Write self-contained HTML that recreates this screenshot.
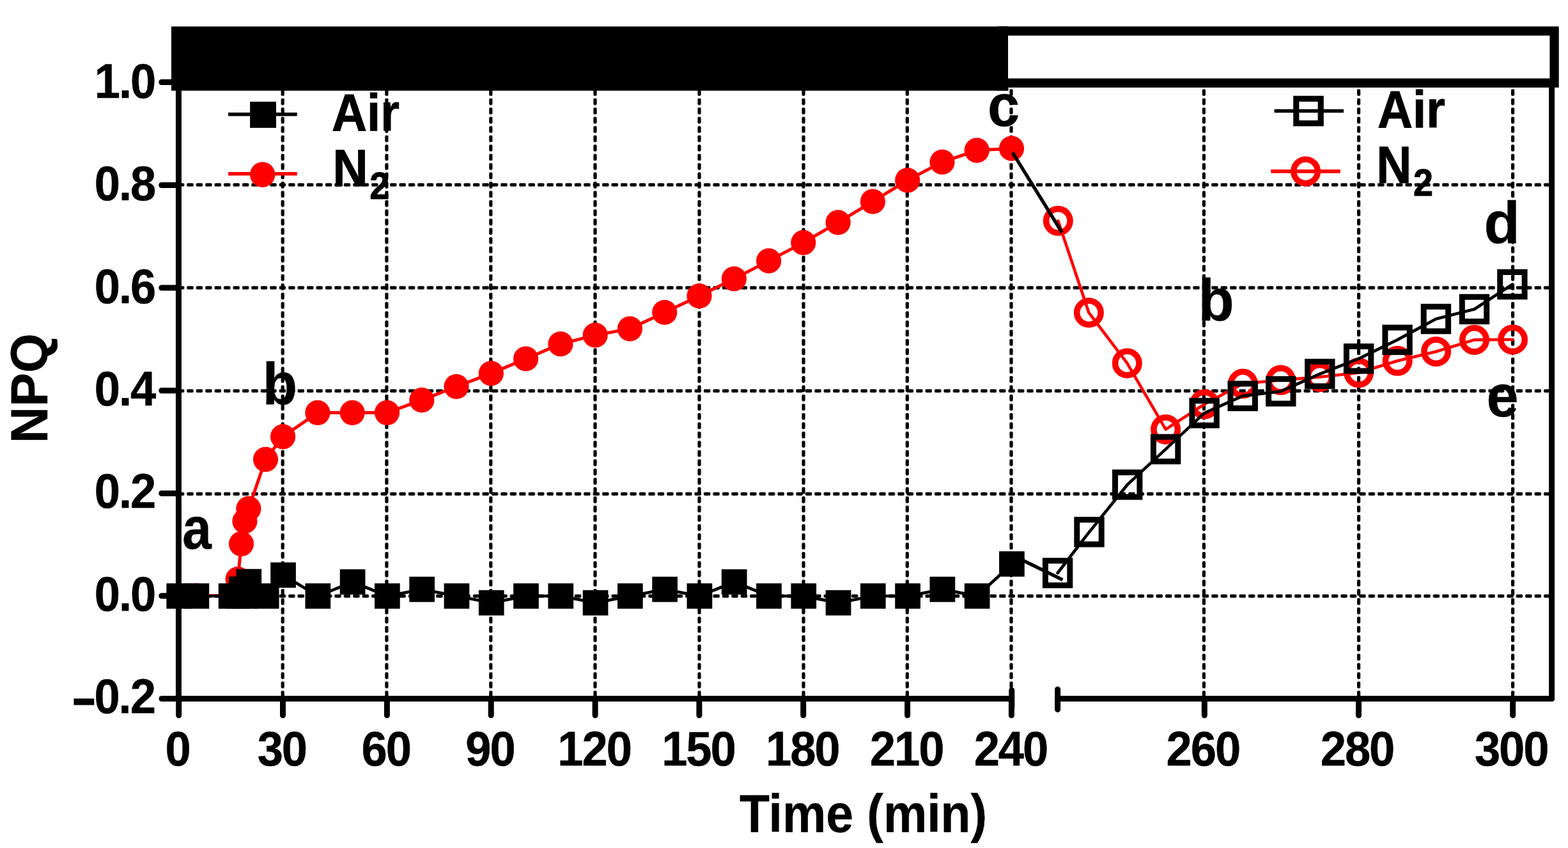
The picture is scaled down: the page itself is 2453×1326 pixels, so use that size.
<!DOCTYPE html>
<html lang="en"><head><meta charset="utf-8"><title>NPQ time course: Air vs N2</title>
<style>html,body{margin:0;padding:0;background:#fff;}body{width:2453px;height:1326px;overflow:hidden;}svg{display:block;}text{font-family:"Liberation Sans",sans-serif;font-weight:bold;fill:#000;stroke:#000;stroke-width:1px;stroke-linejoin:miter;}</style></head><body>
<svg width="2453" height="1326" viewBox="0 0 2453 1326">
<rect x="0" y="0" width="2453" height="1326" fill="#fff"/>
<g id="annotations">
<text transform="translate(285.20,857.50) scale(0.89,1)" font-size="92px" text-anchor="start" style="stroke-width:0.4px">a</text>
<text transform="translate(410.80,631.80) scale(0.965,1)" font-size="92px" text-anchor="start" style="stroke-width:0.4px">b</text>
<text transform="translate(1545.00,196.90) scale(0.98,1)" font-size="92px" text-anchor="start" style="stroke-width:0.4px">c</text>
<text transform="translate(1874.50,501.30) scale(1.0,1)" font-size="92px" text-anchor="start" style="stroke-width:0.4px">b</text>
<text transform="translate(2321.50,380.40) scale(1.0,1)" font-size="92px" text-anchor="start" style="stroke-width:0.4px">d</text>
<text transform="translate(2325.50,650.50) scale(0.98,1)" font-size="92px" text-anchor="start" style="stroke-width:0.4px">e</text>
</g>
<defs>
<pattern id="dashH" patternUnits="userSpaceOnUse" x="292.2" y="0" width="14.4405" height="5.2"><rect x="0.1" y="0" width="10.4" height="5.2" rx="1.7" fill="#000"/></pattern>
<pattern id="dashV" patternUnits="userSpaceOnUse" x="0" y="139.3" width="5.2" height="14.475"><rect x="0" y="0.1" width="5.2" height="10.4" rx="1.7" fill="#000"/></pattern>
</defs>
<g id="grid">
<rect x="284" y="0" width="2140" height="5.2" fill="url(#dashH)" transform="translate(0,929.45)"/>
<rect x="284" y="0" width="2140" height="5.2" fill="url(#dashH)" transform="translate(0,769.70)"/>
<rect x="284" y="0" width="2140" height="5.2" fill="url(#dashH)" transform="translate(0,608.60)"/>
<rect x="284" y="0" width="2140" height="5.2" fill="url(#dashH)" transform="translate(0,447.35)"/>
<rect x="284" y="0" width="2140" height="5.2" fill="url(#dashH)" transform="translate(0,286.40)"/>
<rect x="0" y="139.3" width="5.2" height="950.7" fill="url(#dashV)" transform="translate(439.60,0)"/>
<rect x="0" y="139.3" width="5.2" height="950.7" fill="url(#dashV)" transform="translate(602.30,0)"/>
<rect x="0" y="139.3" width="5.2" height="950.7" fill="url(#dashV)" transform="translate(765.20,0)"/>
<rect x="0" y="139.3" width="5.2" height="950.7" fill="url(#dashV)" transform="translate(928.40,0)"/>
<rect x="0" y="139.3" width="5.2" height="950.7" fill="url(#dashV)" transform="translate(1091.40,0)"/>
<rect x="0" y="139.3" width="5.2" height="950.7" fill="url(#dashV)" transform="translate(1254.40,0)"/>
<rect x="0" y="139.3" width="5.2" height="950.7" fill="url(#dashV)" transform="translate(1416.70,0)"/>
<rect x="0" y="139.3" width="5.2" height="950.7" fill="url(#dashV)" transform="translate(1579.40,0)"/>
<rect x="0" y="139.3" width="5.2" height="950.7" fill="url(#dashV)" transform="translate(1880.80,0)"/>
<rect x="0" y="139.3" width="5.2" height="950.7" fill="url(#dashV)" transform="translate(2123.00,0)"/>
<rect x="0" y="139.3" width="5.2" height="950.7" fill="url(#dashV)" transform="translate(2364.00,0)"/>
</g>
<g id="series-n2-dark">
<polyline fill="none" stroke="#ff0000" stroke-width="5.0" stroke-linejoin="round" stroke-linecap="round" points="279.8,931.4 306.9,931.4 361.2,931.4 372.1,905.5 377.5,850.3 382.9,815.0 388.9,795.4 415.5,718.3 442.6,682.8 496.9,645.3 551.2,645.3 605.5,645.3 659.8,625.7 714.0,604.5 768.3,583.9 822.6,561.0 876.9,537.9 931.2,524.1 985.4,514.1 1039.7,488.5 1094.0,462.8 1148.3,436.0 1202.6,407.9 1256.8,379.4 1311.1,347.8 1365.4,315.2 1419.7,281.9 1474.0,253.4 1528.2,235.1 1582.5,232.2"/>
<circle cx="279.8" cy="931.4" r="19.6" fill="#ff0000"/>
<circle cx="306.9" cy="931.4" r="19.6" fill="#ff0000"/>
<circle cx="361.2" cy="931.4" r="19.6" fill="#ff0000"/>
<circle cx="372.1" cy="905.5" r="19.6" fill="#ff0000"/>
<circle cx="377.5" cy="850.3" r="19.6" fill="#ff0000"/>
<circle cx="382.9" cy="815.0" r="19.6" fill="#ff0000"/>
<circle cx="388.9" cy="795.4" r="19.6" fill="#ff0000"/>
<circle cx="415.5" cy="718.3" r="19.6" fill="#ff0000"/>
<circle cx="442.6" cy="682.8" r="19.6" fill="#ff0000"/>
<circle cx="496.9" cy="645.3" r="19.6" fill="#ff0000"/>
<circle cx="551.2" cy="645.3" r="19.6" fill="#ff0000"/>
<circle cx="605.5" cy="645.3" r="19.6" fill="#ff0000"/>
<circle cx="659.8" cy="625.7" r="19.6" fill="#ff0000"/>
<circle cx="714.0" cy="604.5" r="19.6" fill="#ff0000"/>
<circle cx="768.3" cy="583.9" r="19.6" fill="#ff0000"/>
<circle cx="822.6" cy="561.0" r="19.6" fill="#ff0000"/>
<circle cx="876.9" cy="537.9" r="19.6" fill="#ff0000"/>
<circle cx="931.2" cy="524.1" r="19.6" fill="#ff0000"/>
<circle cx="985.4" cy="514.1" r="19.6" fill="#ff0000"/>
<circle cx="1039.7" cy="488.5" r="19.6" fill="#ff0000"/>
<circle cx="1094.0" cy="462.8" r="19.6" fill="#ff0000"/>
<circle cx="1148.3" cy="436.0" r="19.6" fill="#ff0000"/>
<circle cx="1202.6" cy="407.9" r="19.6" fill="#ff0000"/>
<circle cx="1256.8" cy="379.4" r="19.6" fill="#ff0000"/>
<circle cx="1311.1" cy="347.8" r="19.6" fill="#ff0000"/>
<circle cx="1365.4" cy="315.2" r="19.6" fill="#ff0000"/>
<circle cx="1419.7" cy="281.9" r="19.6" fill="#ff0000"/>
<circle cx="1474.0" cy="253.4" r="19.6" fill="#ff0000"/>
<circle cx="1528.2" cy="235.1" r="19.6" fill="#ff0000"/>
<circle cx="1582.5" cy="232.2" r="19.6" fill="#ff0000"/>
</g>
<g id="series-n2-light">
<polyline fill="none" stroke="#ff0000" stroke-width="4.6" stroke-linejoin="round" stroke-linecap="round" points="1655.3,345.3 1703.4,488.9 1763.3,567.9 1823.6,671.4 1884.3,632.0 1944.4,600.0 2003.6,594.3 2064.7,589.5 2125.6,582.8 2186.2,564.3 2246.6,549.7 2306.5,531.4 2366.6,531.0"/>
<circle cx="1655.3" cy="345.3" r="18.7" fill="none" stroke="#ff0000" stroke-width="9.6"/>
<circle cx="1703.4" cy="488.9" r="18.7" fill="none" stroke="#ff0000" stroke-width="9.6"/>
<circle cx="1763.3" cy="567.9" r="18.7" fill="none" stroke="#ff0000" stroke-width="9.6"/>
<circle cx="1823.6" cy="671.4" r="18.7" fill="none" stroke="#ff0000" stroke-width="9.6"/>
<circle cx="1884.3" cy="632.0" r="18.7" fill="none" stroke="#ff0000" stroke-width="9.6"/>
<circle cx="1944.4" cy="600.0" r="18.7" fill="none" stroke="#ff0000" stroke-width="9.6"/>
<circle cx="2003.6" cy="594.3" r="18.7" fill="none" stroke="#ff0000" stroke-width="9.6"/>
<circle cx="2064.7" cy="589.5" r="18.7" fill="none" stroke="#ff0000" stroke-width="9.6"/>
<circle cx="2125.6" cy="582.8" r="18.7" fill="none" stroke="#ff0000" stroke-width="9.6"/>
<circle cx="2186.2" cy="564.3" r="18.7" fill="none" stroke="#ff0000" stroke-width="9.6"/>
<circle cx="2246.6" cy="549.7" r="18.7" fill="none" stroke="#ff0000" stroke-width="9.6"/>
<circle cx="2306.5" cy="531.4" r="18.7" fill="none" stroke="#ff0000" stroke-width="9.6"/>
<circle cx="2366.6" cy="531.0" r="18.7" fill="none" stroke="#ff0000" stroke-width="9.6"/>
</g>
<polyline fill="none" stroke="#000" stroke-width="5.3" stroke-linejoin="round" stroke-linecap="butt" points="1584.0,238.5 1661.4,363.5"/>
<g id="series-air-dark">
<polyline fill="none" stroke="#000" stroke-width="4.7" stroke-linejoin="round" stroke-linecap="round" points="280.2,932.0 307.3,932.0 361.6,932.0 372.5,932.0 377.9,921.2 383.3,932.0 389.3,909.5 416.7,932.0 443.0,899.2 497.3,932.0 551.6,910.0 605.9,932.0 660.2,921.6 714.4,932.0 768.7,942.6 823.0,932.0 877.3,932.0 931.6,942.6 985.8,932.0 1040.1,921.6 1094.4,932.0 1148.7,910.0 1203.0,932.0 1257.2,932.0 1311.5,942.6 1365.8,932.0 1420.1,932.0 1474.4,921.6 1528.6,932.0 1582.9,881.9"/>
<rect x="260.35" y="912.20" width="39.7" height="39.6" fill="#000"/>
<rect x="287.49" y="912.20" width="39.7" height="39.6" fill="#000"/>
<rect x="341.77" y="912.20" width="39.7" height="39.6" fill="#000"/>
<rect x="352.63" y="912.20" width="39.7" height="39.6" fill="#000"/>
<rect x="358.05" y="901.43" width="39.7" height="39.6" fill="#000"/>
<rect x="363.48" y="912.20" width="39.7" height="39.6" fill="#000"/>
<rect x="369.45" y="889.70" width="39.7" height="39.6" fill="#000"/>
<rect x="396.86" y="912.20" width="39.7" height="39.6" fill="#000"/>
<rect x="423.19" y="879.42" width="39.7" height="39.6" fill="#000"/>
<rect x="477.47" y="912.20" width="39.7" height="39.6" fill="#000"/>
<rect x="531.75" y="890.19" width="39.7" height="39.6" fill="#000"/>
<rect x="586.03" y="912.20" width="39.7" height="39.6" fill="#000"/>
<rect x="640.31" y="901.76" width="39.7" height="39.6" fill="#000"/>
<rect x="694.59" y="912.20" width="39.7" height="39.6" fill="#000"/>
<rect x="748.87" y="922.80" width="39.7" height="39.6" fill="#000"/>
<rect x="803.15" y="912.20" width="39.7" height="39.6" fill="#000"/>
<rect x="857.43" y="912.20" width="39.7" height="39.6" fill="#000"/>
<rect x="911.71" y="922.80" width="39.7" height="39.6" fill="#000"/>
<rect x="965.99" y="912.20" width="39.7" height="39.6" fill="#000"/>
<rect x="1020.27" y="901.76" width="39.7" height="39.6" fill="#000"/>
<rect x="1074.55" y="912.20" width="39.7" height="39.6" fill="#000"/>
<rect x="1128.83" y="890.19" width="39.7" height="39.6" fill="#000"/>
<rect x="1183.11" y="912.20" width="39.7" height="39.6" fill="#000"/>
<rect x="1237.39" y="912.20" width="39.7" height="39.6" fill="#000"/>
<rect x="1291.67" y="922.80" width="39.7" height="39.6" fill="#000"/>
<rect x="1345.95" y="912.20" width="39.7" height="39.6" fill="#000"/>
<rect x="1400.23" y="912.20" width="39.7" height="39.6" fill="#000"/>
<rect x="1454.51" y="901.76" width="39.7" height="39.6" fill="#000"/>
<rect x="1508.79" y="912.20" width="39.7" height="39.6" fill="#000"/>
<rect x="1563.07" y="862.07" width="39.7" height="39.6" fill="#000"/>
</g>
<g id="series-air-light">
<polyline fill="none" stroke="#000" stroke-width="5.4" stroke-linejoin="round" stroke-linecap="butt" points="1582.4,867.5 1662.3,906.6"/>
<polyline fill="none" stroke="#000" stroke-width="4.7" stroke-linejoin="round" stroke-linecap="round" points="1654.6,896.0 1704.0,831.9 1763.7,757.9 1823.6,702.4 1884.1,645.9 1944.2,619.2 2003.8,611.9 2064.8,584.7 2125.6,560.9 2186.1,531.4 2246.4,498.7 2306.5,483.5 2365.9,444.7"/>
<rect x="1635.40" y="876.80" width="38.4" height="38.4" fill="none" stroke="#000" stroke-width="9.0"/>
<rect x="1684.80" y="812.70" width="38.4" height="38.4" fill="none" stroke="#000" stroke-width="9.0"/>
<rect x="1744.50" y="738.70" width="38.4" height="38.4" fill="none" stroke="#000" stroke-width="9.0"/>
<rect x="1804.40" y="683.20" width="38.4" height="38.4" fill="none" stroke="#000" stroke-width="9.0"/>
<rect x="1864.90" y="626.70" width="38.4" height="38.4" fill="none" stroke="#000" stroke-width="9.0"/>
<rect x="1925.00" y="600.00" width="38.4" height="38.4" fill="none" stroke="#000" stroke-width="9.0"/>
<rect x="1984.60" y="592.70" width="38.4" height="38.4" fill="none" stroke="#000" stroke-width="9.0"/>
<rect x="2045.60" y="565.50" width="38.4" height="38.4" fill="none" stroke="#000" stroke-width="9.0"/>
<rect x="2106.40" y="541.65" width="38.4" height="38.4" fill="none" stroke="#000" stroke-width="9.0"/>
<rect x="2166.90" y="512.20" width="38.4" height="38.4" fill="none" stroke="#000" stroke-width="9.0"/>
<rect x="2227.20" y="479.50" width="38.4" height="38.4" fill="none" stroke="#000" stroke-width="9.0"/>
<rect x="2287.30" y="464.30" width="38.4" height="38.4" fill="none" stroke="#000" stroke-width="9.0"/>
<rect x="2346.70" y="425.50" width="38.4" height="38.4" fill="none" stroke="#000" stroke-width="9.0"/>
</g>
<g id="axes" stroke="#000" stroke-width="9.0" stroke-linecap="round" fill="none">
<line x1="279.45" y1="130" x2="279.45" y2="1092.5" stroke-linecap="butt"/>
<line x1="253" y1="1092.5" x2="1582" y2="1092.5"/>
<line x1="1655" y1="1092.5" x2="2427.6" y2="1092.5"/>
<line x1="2427.6" y1="130" x2="2427.6" y2="1092.5"/>
<line x1="252.8" y1="931.7" x2="279" y2="931.7"/>
<line x1="252.8" y1="771.5" x2="279" y2="771.5"/>
<line x1="252.8" y1="610.7" x2="279" y2="610.7"/>
<line x1="252.8" y1="450.0" x2="279" y2="450.0"/>
<line x1="252.8" y1="289.5" x2="279" y2="289.5"/>
<line x1="252.8" y1="128.5" x2="279" y2="128.5"/>
<line x1="279.7" y1="1092.5" x2="279.7" y2="1118.6"/>
<line x1="442.5" y1="1092.5" x2="442.5" y2="1118.6"/>
<line x1="605.4" y1="1092.5" x2="605.4" y2="1118.6"/>
<line x1="768.2" y1="1092.5" x2="768.2" y2="1118.6"/>
<line x1="931.1" y1="1092.5" x2="931.1" y2="1118.6"/>
<line x1="1093.9" y1="1092.5" x2="1093.9" y2="1118.6"/>
<line x1="1256.7" y1="1092.5" x2="1256.7" y2="1118.6"/>
<line x1="1419.6" y1="1092.5" x2="1419.6" y2="1118.6"/>
<line x1="1582.4" y1="1092.5" x2="1582.4" y2="1118.6"/>
<line x1="1884.3" y1="1092.5" x2="1884.3" y2="1118.6"/>
<line x1="2125.5" y1="1092.5" x2="2125.5" y2="1118.6"/>
<line x1="2366.7" y1="1092.5" x2="2366.7" y2="1118.6"/>
<line x1="1582.8" y1="1079.5" x2="1582.8" y2="1107.1"/>
<line x1="1654.6" y1="1078" x2="1654.6" y2="1109.4"/>
</g>
<g id="light-bar">
<rect x="268" y="41.4" width="1309.5" height="100.4" fill="#000"/>
<rect x="1569.65" y="48.5" width="861.9" height="81.25" fill="#fff" stroke="#000" stroke-width="14.3"/>
<rect x="1560" y="41.4" width="17" height="100.4" fill="#000"/>
</g>
<g id="legend">
<line x1="357.1" y1="178.85" x2="464.7" y2="178.85" stroke="#000" stroke-width="5.5"/>
<rect x="391.1" y="159.0" width="40.9" height="40.9" fill="#000"/>
<line x1="357.1" y1="271.8" x2="464.7" y2="271.8" stroke="#ff0000" stroke-width="5.5"/>
<circle cx="410.7" cy="273.0" r="19.7" fill="#ff0000"/>
<line x1="1993.5" y1="173.6" x2="2102" y2="173.6" stroke="#000" stroke-width="5.5"/>
<rect x="2027.78" y="154.38" width="38.45" height="38.45" fill="none" stroke="#000" stroke-width="9.15"/>
<line x1="1988.3" y1="267.9" x2="2096.8" y2="267.9" stroke="#ff0000" stroke-width="5.8"/>
<circle cx="2042.6" cy="267.9" r="18.8" fill="none" stroke="#ff0000" stroke-width="9.4"/>
<text transform="translate(518.90,204.00) scale(0.93,1)" font-size="82px" text-anchor="start">Air</text>
<text transform="translate(520.40,291.10) scale(0.93,1)" font-size="82px" text-anchor="start">N<tspan font-size="60px" dy="19.8" dx="3">2</tspan></text>
<text transform="translate(2154.90,199.00) scale(0.93,1)" font-size="82px" text-anchor="start">Air</text>
<text transform="translate(2153.20,285.90) scale(0.93,1)" font-size="82px" text-anchor="start">N<tspan font-size="60px" dy="19.8" dx="3">2</tspan></text>
</g>
<g id="tick-labels">
<text transform="translate(242.20,152.70) scale(0.95,1)" font-size="76.2px" text-anchor="end" style="stroke-width:0.5px" letter-spacing="-2.2">1.0</text>
<text transform="translate(242.20,313.14) scale(0.95,1)" font-size="76.2px" text-anchor="end" style="stroke-width:0.5px" letter-spacing="-2.2">0.8</text>
<text transform="translate(242.20,473.58) scale(0.95,1)" font-size="76.2px" text-anchor="end" style="stroke-width:0.5px" letter-spacing="-2.2">0.6</text>
<text transform="translate(242.20,634.01) scale(0.95,1)" font-size="76.2px" text-anchor="end" style="stroke-width:0.5px" letter-spacing="-2.2">0.4</text>
<text transform="translate(242.20,794.45) scale(0.95,1)" font-size="76.2px" text-anchor="end" style="stroke-width:0.5px" letter-spacing="-2.2">0.2</text>
<text transform="translate(242.20,954.89) scale(0.95,1)" font-size="76.2px" text-anchor="end" style="stroke-width:0.5px" letter-spacing="-2.2">0.0</text>
<text transform="translate(241.80,1115.33) scale(0.95,1)" font-size="76.2px" text-anchor="end" style="stroke-width:0.5px" letter-spacing="-2.2"><tspan font-size="59.2px" dy="2" style="stroke-width:3.8px">−</tspan><tspan dy="-2" dx="1.7">0.2</tspan></text>
<text transform="translate(277.70,1196.80) scale(0.95,1)" font-size="76.2px" text-anchor="middle" style="stroke-width:0.5px" letter-spacing="-2.2">0</text>
<text transform="translate(440.79,1196.80) scale(0.95,1)" font-size="76.2px" text-anchor="middle" style="stroke-width:0.5px" letter-spacing="-2.2">30</text>
<text transform="translate(603.63,1196.80) scale(0.95,1)" font-size="76.2px" text-anchor="middle" style="stroke-width:0.5px" letter-spacing="-2.2">60</text>
<text transform="translate(766.47,1196.80) scale(0.95,1)" font-size="76.2px" text-anchor="middle" style="stroke-width:0.5px" letter-spacing="-2.2">90</text>
<text transform="translate(929.56,1196.80) scale(0.95,1)" font-size="76.2px" text-anchor="middle" style="stroke-width:0.5px" letter-spacing="-2.2">120</text>
<text transform="translate(1092.40,1196.80) scale(0.95,1)" font-size="76.2px" text-anchor="middle" style="stroke-width:0.5px" letter-spacing="-2.2">150</text>
<text transform="translate(1255.24,1196.80) scale(0.95,1)" font-size="76.2px" text-anchor="middle" style="stroke-width:0.5px" letter-spacing="-2.2">180</text>
<text transform="translate(1418.08,1196.80) scale(0.95,1)" font-size="76.2px" text-anchor="middle" style="stroke-width:0.5px" letter-spacing="-2.2">210</text>
<text transform="translate(1580.92,1196.80) scale(0.95,1)" font-size="76.2px" text-anchor="middle" style="stroke-width:0.5px" letter-spacing="-2.2">240</text>
<text transform="translate(1881.80,1196.80) scale(0.95,1)" font-size="76.2px" text-anchor="middle" style="stroke-width:0.5px" letter-spacing="-2.2">260</text>
<text transform="translate(2123.00,1196.80) scale(0.95,1)" font-size="76.2px" text-anchor="middle" style="stroke-width:0.5px" letter-spacing="-2.2">280</text>
<text transform="translate(2364.20,1196.80) scale(0.95,1)" font-size="76.2px" text-anchor="middle" style="stroke-width:0.5px" letter-spacing="-2.2">300</text>
</g>
<g id="axis-titles">
<text transform="translate(1350.60,1300.60) scale(0.926,1)" font-size="83px" text-anchor="middle" style="stroke-width:0.4px">Time (min)</text>
<text transform="translate(73.70,607.20) rotate(-90) scale(0.966,1)" font-size="82px" text-anchor="middle" style="stroke-width:0.4px">NPQ</text>
</g>
</svg></body></html>
